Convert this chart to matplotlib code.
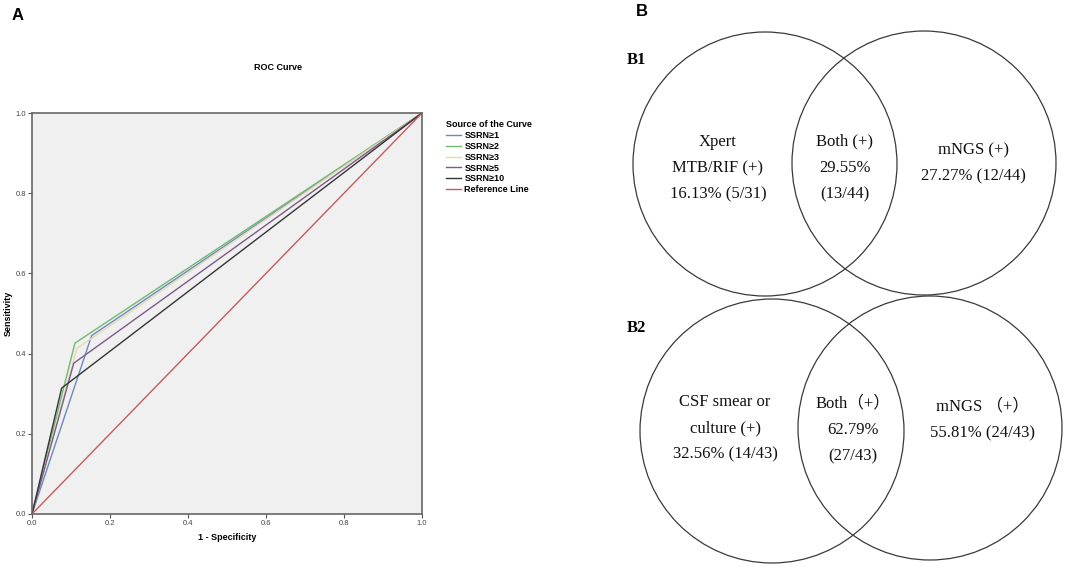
import matplotlib
matplotlib.use("Agg")
import matplotlib.pyplot as plt
from matplotlib.patches import Circle

# ---------------- data ----------------
roc_labels = ["SSRN≥1", "SSRN≥2", "SSRN≥3", "SSRN≥5", "SSRN≥10"]
roc_fpr = [[0.0, 0.153, 1.0],
           [0.0, 0.110, 1.0],
           [0.0, 0.115, 1.0],
           [0.0, 0.107, 1.0],
           [0.0, 0.076, 1.0]]
roc_tpr = [[0.0, 0.445, 1.0],
           [0.0, 0.426, 1.0],
           [0.0, 0.413, 1.0],
           [0.0, 0.376, 1.0],
           [0.0, 0.314, 1.0]]
roc_colors = ["#6d88c0", "#6fba6f", "#e4d9b4", "#7e5a88", "#353535"]
ref_label = "Reference Line"
ref_x = [0.0, 1.0]
ref_y = [0.0, 1.0]
ticks = [0.0, 0.2, 0.4, 0.6, 0.8, 1.0]
tick_labels = ["0.0", "0.2", "0.4", "0.6", "0.8", "1.0"]

b1_left = "Xpert\nMTB/RIF (+)\n16.13% (5/31)"
b1_both = "Both (+)\n29.55%\n(13/44)"
b1_right = "mNGS (+)\n27.27% (12/44)"
b2_left = "CSF smear or\nculture (+)\n32.56% (14/43)"
b2_both = "Both（+）\n62.79%\n(27/43)"
b2_right = "mNGS （+）\n55.81% (24/43)"

W, H = 1079, 568
fig = plt.figure(figsize=(W / 100, H / 100), dpi=100)
fig.patch.set_facecolor("white")

sans = ["Liberation Sans", "DejaVu Sans"]
serif = ["Liberation Serif", "Noto Sans CJK SC", "DejaVu Serif"]

# ---------------- ROC panel ----------------
x0, x1, y0, y1 = 32, 422, 514, 113
ax = fig.add_axes([x0 / W, 1 - y0 / H, (x1 - x0) / W, (y0 - y1) / H])
ax.set_facecolor("#f0f0f0")
handles = []
for fx, ty, c, lab in zip(roc_fpr, roc_tpr, roc_colors, roc_labels):
    h, = ax.plot(fx, ty, color=c, lw=1.0, label=lab)
    handles.append(h)
h, = ax.plot(ref_x, ref_y, color="#c85a5a", lw=1.0, label=ref_label)
handles.append(h)
ax.set_xlim(0, 1)
ax.set_ylim(0, 1)
ax.set_xticks(ticks)
ax.set_yticks(ticks)
ax.set_xticklabels(tick_labels, fontsize=5.5, color="#444444", family=sans)
ax.set_yticklabels(tick_labels, fontsize=5.5, color="#444444", family=sans)
ax.tick_params(length=3, width=0.8, color="#555555", pad=1)
for s in ax.spines.values():
    s.set_color("#666666")
    s.set_linewidth(1.2)
ax.set_xlabel("1 - Specificity", fontsize=6.5, fontweight="bold", family=sans, labelpad=5)
ax.set_ylabel("Sensitivity", fontsize=6.5, fontweight="bold", family=sans)
ax.yaxis.set_label_coords((13 - x0) / (x1 - x0), 0.5)

fig.text(278 / W, 1 - 68 / H, "ROC Curve", fontsize=6.5, fontweight="bold",
         family=sans, ha="center", va="center")
leg = fig.legend(handles=handles, loc="upper left",
                 bbox_to_anchor=(440 / W, 1 - 114 / H), frameon=False,
                 title="Source of the Curve", alignment="left",
                 prop={"family": sans, "weight": "bold", "size": 6.5},
                 title_fontproperties={"family": sans, "weight": "bold", "size": 6.5},
                 handlelength=1.6, handletextpad=0.4, labelspacing=0.2,
                 borderpad=0.2)

fig.text(12 / W, 1 - 15 / H, "A", fontsize=12, fontweight="bold", family=sans,
         ha="left", va="center")
fig.text(636 / W, 1 - 12 / H, "B", fontsize=12, fontweight="bold", family=sans,
         ha="left", va="center")

# ---------------- Venn panels ----------------
ov = fig.add_axes([0, 0, 1, 1])
ov.set_xlim(0, W)
ov.set_ylim(H, 0)
ov.axis("off")
ov.patch.set_alpha(0)

circles = [(765, 164, 132), (924, 163, 132), (772, 431, 132), (930, 428, 132)]
for cx, cy, r in circles:
    ov.add_patch(Circle((cx, cy), r, fill=False, ec="#3a3a3a", lw=0.9))

tk = dict(family=serif, fontsize=12, ha="center", va="center", linespacing=1.85,
          color="#111111")
ov.text(718, 168, b1_left, **tk)
ov.text(845, 168, b1_both, **tk)
ov.text(973, 163, b1_right, **tk)
ov.text(725, 428, b2_left, **tk)
ov.text(853, 430, b2_both, **tk)
ov.text(983, 420, b2_right, **tk)

ov.text(627, 60, "B1", family=serif, fontsize=12, fontweight="bold", ha="left", va="center")
ov.text(627, 328, "B2", family=serif, fontsize=12, fontweight="bold", ha="left", va="center")

fig.savefig("out.png", dpi=100)
